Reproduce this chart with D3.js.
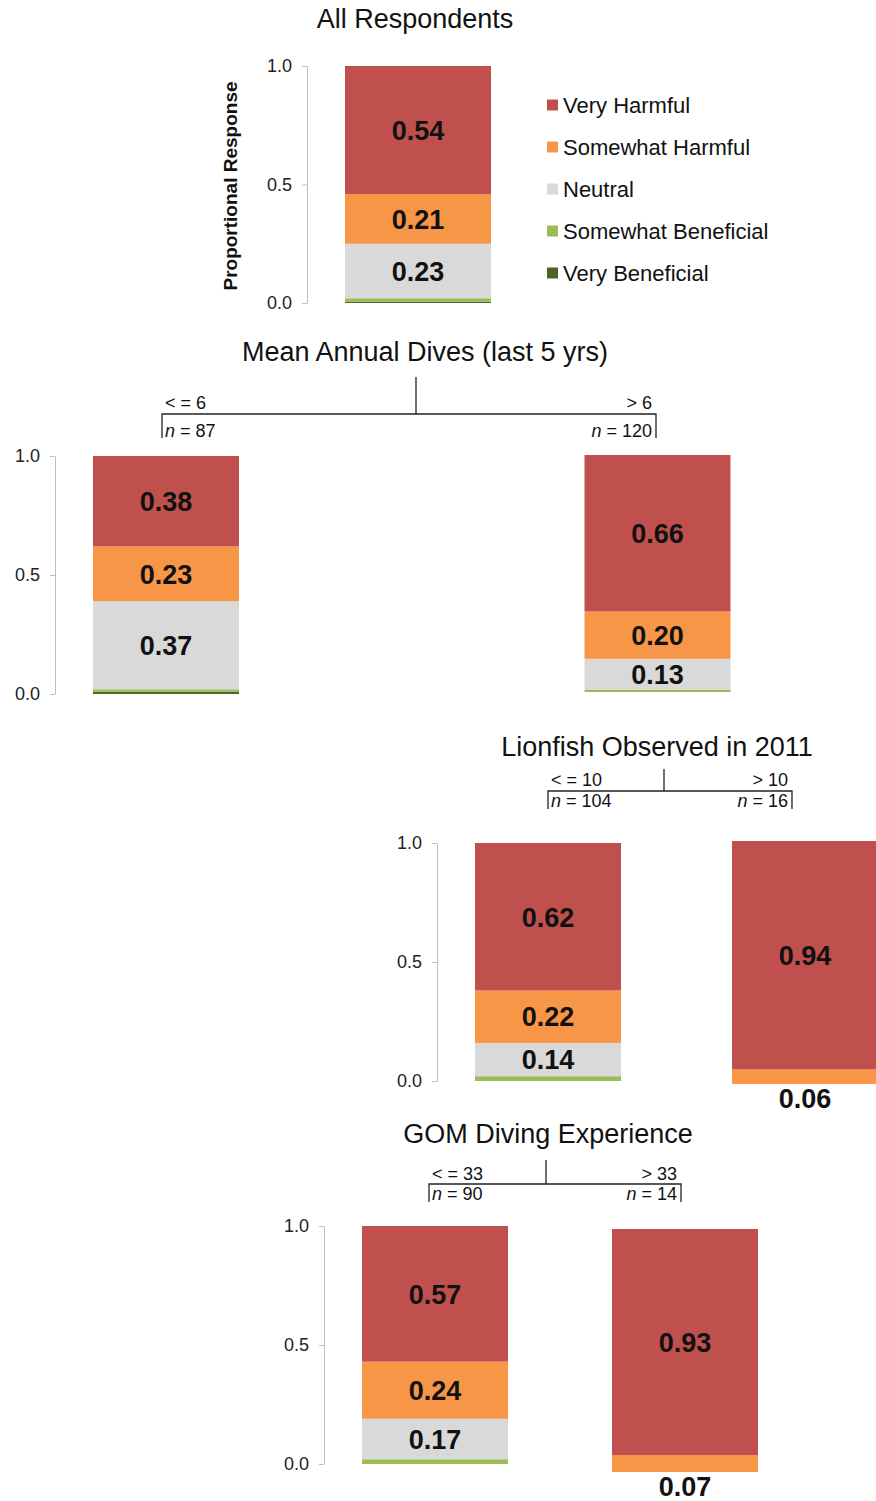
<!DOCTYPE html>
<html>
<head>
<meta charset="utf-8">
<script src="https://cdn.jsdelivr.net/npm/d3@7"></script>
<style>
	body { margin: 0; background: #fff; }
	text { font-family: "Liberation Sans", Arial, sans-serif; }
</style>
</head>
<body>
<div class="chart"></div>
<script>
// response categories, top of the stack first
const categories = ['Very Harmful', 'Somewhat Harmful', 'Neutral', 'Somewhat Beneficial', 'Very Beneficial'];
const palette = ['#c0504d', '#f79646', '#d9d9d9', '#9bbb59', '#4f6228'];

// proportional responses, same order as categories
const allRespondents = [0.54, 0.21, 0.23, 0.015, 0.005];
const divesLow = [0.38, 0.23, 0.37, 0.01, 0.01];
const divesHigh = [0.66, 0.20, 0.13, 0.01, 0];
const lionfishLow = [0.62, 0.22, 0.14, 0.02, 0];
const lionfishHigh = [0.94, 0.06, 0, 0, 0];
const gomLow = [0.57, 0.24, 0.17, 0.02, 0];
const gomHigh = [0.93, 0.07, 0, 0, 0];

const yTicks = [0, 0.5, 1];

const panelTitles = ['All Respondents', 'Mean Annual Dives (last 5 yrs)', 'Lionfish Observed in 2011', 'GOM Diving Experience'];
const splitLabels = [['< = 6', '> 6'], ['< = 10', '> 10'], ['< = 33', '> 33']];
const splitN = [[87, 120], [104, 16], [90, 14]];

// layout of each panel (pixels)
const barWidth = 146;
const panels = [
	{ bars: [allRespondents], cx: [418, 418], y: [[303, 66]], title: [415, 28] },
	{ bars: [divesLow, divesHigh], cx: [166, 657.5], y: [[694, 456], [692, 455]], title: [425, 361],
		bracket: { x0: 162, x1: 656, xm: 416, top: 377, y: 414, end: 438, lab: -5, n: 23 } },
	{ bars: [lionfishLow, lionfishHigh], cx: [548, 805], y: [[1081, 843], [1084, 841]], title: [657, 756],
		bracket: { x0: 548, x1: 792, xm: 664, top: 769, y: 791, end: 809, lab: -5, n: 16 } },
	{ bars: [gomLow, gomHigh], cx: [435, 685], y: [[1464, 1226], [1472, 1229]], title: [548, 1143],
		bracket: { x0: 429, x1: 681, xm: 546, top: 1160, y: 1184, end: 1202, lab: -4, n: 16 } }
];

const svg = d3.select('.chart')
	.append('svg')
		.attr('width', 876)
		.attr('height', 1501);

const color = d3.scaleOrdinal().domain(categories).range(palette);
// stack from the bottom up
const stack = d3.stack().keys(categories.slice().reverse());
const fmt = d3.format('.2f');

panels.forEach((p, pi) => {
	const g = svg.append('g');

	g.append('text')
		.attr('x', p.title[0])
		.attr('y', p.title[1])
		.attr('text-anchor', 'middle')
		.style('font-size', '27px')
		.style('fill', '#111')
		.text(panelTitles[pi]);

	const x = d3.scalePoint()
		.domain(p.bars.map((d, i) => i))
		.range(p.bars.length > 1 ? p.cx : [p.cx[0], p.cx[0]]);

	p.bars.forEach((vals, bi) => {
		const yScale = d3.scaleLinear().domain([0, 1]).range(p.y[bi]);
		const row = {};
		categories.forEach((c, i) => row[c] = vals[i]);
		const series = stack([row]);
		const left = x(bi) - barWidth / 2;

		// axis only on the first bar of every panel
		if (bi === 0) {
			const axis = g.append('g')
				.attr('transform', `translate(${left - 38}, 0)`)
				.call(d3.axisLeft(yScale)
					.tickValues(yTicks)
					.tickFormat(d3.format('.1f'))
					.tickSize(5)
					.tickSizeOuter(0)
					.tickPadding(10));
			axis.select('.domain').attr('stroke', '#bfbfbf');
			axis.selectAll('.tick line').attr('stroke', '#bfbfbf');
			axis.selectAll('.tick text')
				.style('font-size', '18px')
				.style('fill', '#222')
				.style('font-family', '"Liberation Sans", Arial, sans-serif');
		}

		g.selectAll(null)
			.data(series.filter(s => s[0][1] > s[0][0]))
			.enter()
			.append('rect')
				.attr('x', left)
				.attr('width', barWidth)
				.attr('y', s => yScale(s[0][1]))
				.attr('height', s => yScale(s[0][0]) - yScale(s[0][1]))
				.attr('fill', s => color(s.key));

		// value labels: inside large segments, under the bar for small ones
		g.selectAll(null)
			.data(series.filter(s => s[0][1] - s[0][0] >= 0.05))
			.enter()
			.append('text')
				.attr('x', x(bi))
				.attr('y', s => {
					const v = s[0][1] - s[0][0];
					if (v < 0.1) return yScale(0) + 24;
					return (yScale(s[0][0]) + yScale(s[0][1])) / 2;
				})
				.attr('dy', s => (s[0][1] - s[0][0] < 0.1) ? 0 : '0.36em')
				.attr('text-anchor', 'middle')
				.style('font-size', '27px')
				.style('font-weight', 'bold')
				.style('fill', '#111')
				.text(s => fmt(s[0][1] - s[0][0]));
	});

	// split bracket
	if (p.bracket) {
		const b = p.bracket;
		const k = pi - 1;
		const path = d3.path();
		path.moveTo(b.xm, b.top); path.lineTo(b.xm, b.y);
		path.moveTo(b.x0, b.end); path.lineTo(b.x0, b.y); path.lineTo(b.x1, b.y); path.lineTo(b.x1, b.end);
		g.append('path')
			.attr('d', path.toString())
			.attr('fill', 'none')
			.attr('stroke', '#222')
			.attr('stroke-width', 1.3);

		[0, 1].forEach(side => {
			const tx = side === 0 ? b.x0 + 3 : b.x1 - 4;
			const anchor = side === 0 ? 'start' : 'end';
			g.append('text')
				.attr('x', tx)
				.attr('y', b.y + b.lab)
				.attr('text-anchor', anchor)
				.style('font-size', '18px')
				.style('fill', '#111')
				.text(splitLabels[k][side]);
			const nt = g.append('text')
				.attr('x', tx)
				.attr('y', b.y + b.n)
				.attr('text-anchor', anchor)
				.style('font-size', '18px')
				.style('fill', '#111');
			nt.append('tspan').style('font-style', 'italic').text('n');
			nt.append('tspan').text(' = ' + splitN[k][side]);
		});
	}
});

// y axis title for the first panel
svg.append('text')
	.attr('transform', 'translate(237, 186) rotate(-90)')
	.attr('text-anchor', 'middle')
	.style('font-size', '19px')
	.style('font-weight', 'bold')
	.style('fill', '#111')
	.text('Proportional Response');

// legend
const legend = svg.selectAll('.legend')
	.data(categories)
	.enter()
	.append('g')
		.attr('class', 'legend')
		.attr('transform', (d, i) => `translate(547, ${105 + i * 42})`);

legend.append('rect')
	.attr('x', 0)
	.attr('y', -5.5)
	.attr('width', 11)
	.attr('height', 11)
	.attr('fill', d => color(d));

legend.append('text')
	.attr('x', 16)
	.attr('y', 0)
	.attr('dy', '0.36em')
	.style('font-size', '22px')
	.style('fill', '#111')
	.text(d => d);
</script>
</body>
</html>
